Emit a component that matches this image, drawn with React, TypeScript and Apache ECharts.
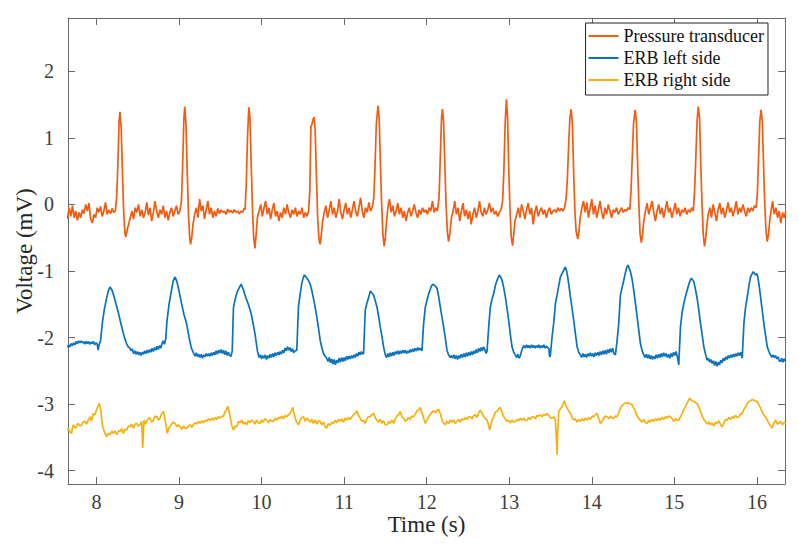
import React, { useEffect, useRef } from "react";
import * as echarts from "echarts";

const X_MIN = 7.656;
const X_MAX = 16.34;
const Y_MIN = -4.2;
const Y_MAX = 2.8;
const xTicks = [8, 9, 10, 11, 12, 13, 14, 15, 16];
const yTicks = [-4, -3, -2, -1, 0, 1, 2];
const seriesNames = ["Pressure transducer", "ERB left side", "ERB right side"];
const seriesColors = ["#F45A10", "#0B72BD", "#F8B010"];

const pressure: [number, number][] = [
[7.65,-0.22],[7.67,-0.05],[7.69,-0.18],[7.71,-0.02],[7.73,-0.2],[7.75,-0.1],[7.77,-0.24],[7.79,-0.12],[7.81,-0.2],[7.83,-0.08],[7.85,-0.14],[7.87,0.0],[7.89,-0.1],[7.91,0.02],[7.93,-0.22],[7.95,-0.28],[7.97,-0.15],[7.99,-0.2],[8.01,-0.05],[8.03,-0.12],[8.05,-0.03],[8.07,-0.18],[8.09,-0.1],[8.11,0.03],[8.13,-0.15],[8.15,-0.08],[8.17,-0.14],[8.19,-0.06],[8.21,-0.12],[8.23,-0.1],
[8.245,0.1],[8.26,0.6],[8.275,1.25],[8.286,1.39],[8.30,1.15],[8.315,0.5],[8.33,-0.1],[8.345,-0.42],[8.355,-0.49],[8.37,-0.4],[8.39,-0.3],[8.41,-0.2],
[8.43,-0.1],[8.45,-0.22],[8.47,-0.05],[8.49,-0.12],[8.51,0.0],[8.53,-0.18],[8.55,-0.08],[8.57,-0.2],[8.59,-0.12],[8.61,0.03],[8.63,-0.16],[8.65,-0.05],[8.67,-0.25],[8.69,-0.12],[8.71,0.05],[8.73,-0.1],[8.75,-0.2],[8.77,-0.08],[8.79,-0.15],[8.81,-0.02],[8.83,-0.2],[8.85,-0.1],[8.87,-0.24],[8.89,-0.12],[8.91,-0.05],[8.93,-0.18],[8.95,-0.1],[8.97,-0.02],[8.99,-0.15],[9.01,-0.1],
[9.03,0.05],[9.045,0.6],[9.06,1.3],[9.07,1.47],[9.085,1.2],[9.10,0.5],[9.115,-0.15],[9.13,-0.5],[9.14,-0.6],[9.155,-0.5],[9.17,-0.3],[9.19,-0.15],
[9.21,-0.05],[9.23,-0.2],[9.25,0.08],[9.27,-0.1],[9.29,-0.02],[9.31,-0.22],[9.33,-0.08],[9.35,0.05],[9.37,-0.15],[9.39,-0.05],[9.41,-0.2],[9.43,-0.1],[9.45,-0.18],[9.47,-0.06],[9.49,-0.14],[9.51,-0.08],[9.53,-0.12],[9.55,-0.1],[9.57,-0.15],[9.59,-0.07],[9.61,-0.12],[9.63,-0.09],[9.65,-0.13],[9.67,-0.08],[9.69,-0.12],[9.71,-0.1],[9.73,-0.14],[9.75,-0.1],[9.77,-0.12],[9.79,-0.06],
[9.80,-0.08],[9.815,0.3],[9.83,1.0],[9.846,1.46],[9.86,1.3],[9.875,0.6],[9.89,-0.05],[9.905,-0.5],[9.92,-0.66],[9.935,-0.45],[9.95,-0.2],
[9.97,-0.1],[9.99,0.0],[10.01,-0.18],[10.03,-0.05],[10.05,0.05],[10.07,-0.15],[10.09,-0.05],[10.11,-0.22],[10.13,-0.08],[10.15,0.02],[10.17,-0.18],[10.19,-0.1],[10.21,-0.25],[10.23,-0.12],[10.25,-0.2],[10.27,-0.05],[10.29,-0.15],[10.31,0.0],[10.33,-0.12],[10.35,-0.2],[10.37,-0.08],[10.39,-0.15],[10.41,-0.05],[10.43,-0.18],[10.45,-0.1],[10.47,-0.15],[10.49,-0.05],[10.51,-0.2],[10.53,-0.12],[10.55,-0.18],[10.57,-0.1],
[10.585,0.2],[10.598,1.17],[10.61,1.2],[10.625,1.28],[10.638,1.31],[10.65,1.1],[10.665,0.4],[10.68,-0.2],[10.695,-0.52],[10.71,-0.6],[10.725,-0.45],[10.74,-0.25],
[10.76,-0.12],[10.78,-0.02],[10.80,-0.2],[10.82,-0.08],[10.84,0.05],[10.86,-0.15],[10.88,-0.05],[10.90,-0.2],[10.92,-0.1],[10.94,0.08],[10.96,-0.12],[10.98,-0.22],[11.00,-0.08],[11.02,0.02],[11.04,-0.15],[11.06,-0.05],[11.08,-0.2],[11.10,-0.08],[11.12,0.05],[11.14,-0.1],[11.16,-0.18],[11.18,-0.05],[11.20,0.1],[11.22,-0.1],[11.24,-0.2],[11.26,-0.05],[11.28,-0.12],[11.30,0.03],[11.32,-0.1],[11.34,-0.05],
[11.36,0.1],[11.375,0.6],[11.39,1.2],[11.41,1.48],[11.425,1.3],[11.44,0.6],[11.455,0.0],[11.47,-0.45],[11.485,-0.63],[11.50,-0.5],[11.515,-0.25],
[11.53,-0.05],[11.55,0.08],[11.57,-0.12],[11.59,-0.02],[11.61,-0.18],[11.63,-0.1],[11.65,0.02],[11.67,-0.15],[11.69,-0.05],[11.71,-0.2],[11.73,-0.1],[11.75,-0.25],[11.77,-0.12],[11.79,-0.05],[11.81,-0.18],[11.83,-0.1],[11.85,0.0],[11.87,-0.12],[11.89,-0.2],[11.91,-0.08],[11.93,-0.15],[11.95,-0.05],[11.97,-0.12],[11.99,-0.08],[12.01,-0.15],[12.03,-0.05],[12.05,-0.1],[12.07,0.05],[12.09,-0.12],[12.11,-0.05],[12.13,-0.1],
[12.15,0.1],[12.165,0.7],[12.18,1.3],[12.19,1.43],[12.205,1.25],[12.22,0.6],[12.235,0.0],[12.25,-0.4],[12.265,-0.56],[12.28,-0.45],[12.30,-0.2],
[12.32,-0.1],[12.34,0.05],[12.36,-0.15],[12.38,-0.05],[12.40,-0.25],[12.42,-0.1],[12.44,0.02],[12.46,-0.18],[12.48,-0.08],[12.50,-0.22],[12.52,-0.1],[12.54,-0.3],[12.56,-0.15],[12.58,-0.05],[12.60,-0.2],[12.62,-0.1],[12.64,0.05],[12.66,-0.12],[12.68,-0.18],[12.70,-0.05],[12.72,-0.15],[12.74,-0.08],[12.76,0.02],[12.78,-0.12],[12.80,-0.05],[12.82,-0.15],[12.84,-0.1],[12.86,-0.18],[12.88,-0.12],[12.90,-0.08],
[12.92,0.05],[12.935,0.5],[12.95,1.2],[12.965,1.58],[12.98,1.3],[12.995,0.5],[13.01,-0.1],[13.025,-0.5],[13.04,-0.62],[13.055,-0.45],[13.07,-0.25],
[13.09,-0.15],[13.11,-0.05],[13.13,-0.2],[13.15,0.0],[13.17,-0.1],[13.19,-0.22],[13.21,-0.08],[13.23,0.02],[13.25,-0.15],[13.27,-0.05],[13.29,-0.3],[13.31,-0.12],[13.33,-0.02],[13.35,-0.18],[13.37,-0.1],[13.39,-0.05],[13.41,-0.15],[13.43,-0.08],[13.45,-0.2],[13.47,-0.1],[13.49,-0.05],[13.51,-0.15],[13.53,-0.1],[13.55,-0.08],[13.57,-0.12],[13.59,-0.05],[13.61,-0.1],[13.63,-0.06],[13.65,-0.1],[13.67,-0.05],
[13.69,0.1],[13.705,0.4],[13.72,0.9],[13.735,1.3],[13.75,1.43],[13.765,1.2],[13.78,0.5],[13.795,-0.1],[13.81,-0.4],[13.83,-0.52],[13.845,-0.4],[13.86,-0.2],
[13.88,-0.05],[13.90,0.05],[13.92,-0.12],[13.94,0.03],[13.96,-0.2],[13.98,-0.05],[14.00,0.08],[14.02,-0.15],[14.04,-0.02],[14.06,-0.2],[14.08,-0.08],[14.10,0.05],[14.12,-0.12],[14.14,-0.22],[14.16,-0.05],[14.18,-0.15],[14.20,0.0],[14.22,-0.1],[14.24,-0.2],[14.26,-0.08],[14.28,-0.12],[14.30,-0.05],[14.32,-0.15],[14.34,-0.1],[14.36,-0.05],[14.38,-0.12],[14.40,-0.08],[14.42,-0.1],[14.44,-0.05],[14.46,-0.08],
[14.475,0.2],[14.49,0.7],[14.505,1.2],[14.525,1.42],[14.54,1.25],[14.555,0.6],[14.57,0.0],[14.585,-0.45],[14.60,-0.575],[14.615,-0.45],[14.63,-0.25],
[14.65,-0.1],[14.67,0.02],[14.69,-0.15],[14.71,-0.05],[14.73,0.05],[14.75,-0.12],[14.77,-0.25],[14.79,-0.1],[14.81,0.0],[14.83,-0.15],[14.85,-0.05],[14.87,-0.2],[14.89,-0.08],[14.91,0.05],[14.93,-0.12],[14.95,-0.05],[14.97,-0.2],[14.99,-0.1],[15.01,0.02],[15.03,-0.15],[15.05,-0.05],[15.07,-0.18],[15.09,-0.08],[15.11,-0.12],[15.13,-0.05],[15.15,-0.15],[15.17,-0.08],[15.19,-0.12],[15.21,-0.05],[15.23,-0.1],
[15.245,0.2],[15.26,0.7],[15.275,1.25],[15.289,1.47],[15.305,1.3],[15.32,0.6],[15.335,0.0],[15.35,-0.45],[15.365,-0.63],[15.38,-0.5],[15.395,-0.3],
[15.41,-0.15],[15.43,-0.05],[15.45,-0.2],[15.47,0.0],[15.49,-0.12],[15.51,-0.25],[15.53,-0.08],[15.55,0.02],[15.57,-0.15],[15.59,-0.05],[15.61,-0.2],[15.63,-0.1],[15.65,0.03],[15.67,-0.12],[15.69,-0.05],[15.71,-0.18],[15.73,-0.08],[15.75,0.05],[15.77,-0.15],[15.79,-0.05],[15.81,-0.12],[15.83,0.0],[15.85,-0.1],[15.87,-0.18],[15.89,-0.05],[15.91,-0.12],[15.93,-0.05],[15.95,-0.1],[15.97,-0.02],[15.99,-0.05],
[16.005,0.15],[16.02,0.7],[16.035,1.25],[16.05,1.42],[16.065,1.25],[16.08,0.6],[16.095,0.0],[16.11,-0.4],[16.125,-0.56],[16.14,-0.45],[16.155,-0.25],
[16.17,-0.1],[16.19,0.05],[16.21,-0.15],[16.23,-0.05],[16.25,-0.2],[16.27,-0.1],[16.29,-0.28],[16.31,-0.12],[16.33,-0.2],[16.35,-0.1]
];

const erbLeft: [number, number][] = [
[7.65,-2.15],[7.665,-2.11],[7.68,-2.14],[7.695,-2.09],[7.71,-2.12],[7.725,-2.08],[7.74,-2.11],[7.755,-2.06],[7.77,-2.09],[7.785,-2.05],[7.80,-2.08],[7.815,-2.05],[7.83,-2.08],[7.845,-2.06],[7.86,-2.1],[7.875,-2.06],[7.89,-2.09],[7.905,-2.06],[7.92,-2.1],[7.935,-2.07],[7.95,-2.09],[7.965,-2.06],[7.98,-2.11],[7.995,-2.08],[8.01,-2.1],[8.02,-2.19],[8.035,-2.1],
[8.05,-2.05],[8.075,-1.75],[8.10,-1.55],[8.125,-1.4],[8.145,-1.3],[8.165,-1.24],[8.19,-1.29],[8.215,-1.39],[8.245,-1.53],[8.265,-1.62],[8.285,-1.73],[8.305,-1.83],[8.325,-1.93],[8.345,-2.02],[8.365,-2.09],[8.385,-2.14],[8.405,-2.16],
[8.42,-2.2],[8.435,-2.17],[8.45,-2.24],[8.465,-2.2],[8.48,-2.25],[8.495,-2.21],[8.51,-2.26],[8.525,-2.22],[8.54,-2.27],[8.555,-2.22],[8.57,-2.25],[8.585,-2.2],[8.60,-2.24],[8.615,-2.19],[8.63,-2.23],[8.645,-2.18],[8.66,-2.22],[8.675,-2.16],[8.69,-2.21],[8.705,-2.15],[8.72,-2.19],[8.735,-2.13],[8.75,-2.18],[8.765,-2.12],[8.78,-2.16],[8.795,-2.09],[8.81,-2.05],[8.825,-2.1],[8.84,-2.02],
[8.855,-1.75],[8.88,-1.5],[8.905,-1.32],[8.93,-1.15],[8.953,-1.09],[8.975,-1.16],[9.0,-1.3],[9.03,-1.48],[9.06,-1.65],[9.09,-1.78],[9.12,-1.98],[9.15,-2.16],[9.18,-2.24],
[9.195,-2.28],[9.21,-2.23],[9.225,-2.29],[9.24,-2.25],[9.255,-2.3],[9.27,-2.25],[9.285,-2.31],[9.30,-2.26],[9.315,-2.29],[9.33,-2.24],[9.345,-2.28],[9.36,-2.24],[9.375,-2.28],[9.39,-2.23],[9.405,-2.27],[9.42,-2.22],[9.435,-2.26],[9.45,-2.2],[9.465,-2.25],[9.48,-2.19],[9.495,-2.23],[9.51,-2.18],[9.525,-2.24],[9.54,-2.19],[9.555,-2.26],[9.57,-2.2],[9.585,-2.27],[9.60,-2.22],[9.615,-2.27],[9.63,-2.28],
[9.645,-2.2],[9.66,-1.55],[9.685,-1.4],[9.71,-1.3],[9.735,-1.24],[9.753,-1.2],[9.78,-1.28],[9.81,-1.4],[9.84,-1.5],[9.87,-1.62],[9.90,-1.8],[9.925,-1.98],[9.95,-2.2],[9.97,-2.3],
[9.985,-2.26],[10.0,-2.32],[10.015,-2.27],[10.03,-2.31],[10.045,-2.26],[10.06,-2.33],[10.075,-2.27],[10.09,-2.31],[10.105,-2.25],[10.12,-2.3],[10.135,-2.24],[10.15,-2.29],[10.165,-2.23],[10.18,-2.27],[10.195,-2.22],[10.21,-2.26],[10.225,-2.21],[10.24,-2.25],[10.255,-2.19],[10.27,-2.23],[10.285,-2.16],[10.30,-2.2],[10.315,-2.14],[10.33,-2.19],[10.345,-2.15],[10.36,-2.21],[10.375,-2.17],[10.39,-2.23],[10.405,-2.2],
[10.427,-2.19],[10.447,-1.54],[10.467,-1.35],[10.487,-1.19],[10.505,-1.1],[10.52,-1.06],[10.545,-1.1],[10.568,-1.14],[10.59,-1.2],[10.608,-1.29],[10.64,-1.48],[10.669,-1.69],[10.69,-1.86],[10.71,-2.04],[10.73,-2.15],[10.75,-2.24],[10.77,-2.28],[10.79,-2.31],
[10.805,-2.36],[10.82,-2.3],[10.835,-2.38],[10.85,-2.32],[10.865,-2.4],[10.88,-2.33],[10.895,-2.41],[10.91,-2.34],[10.925,-2.38],[10.94,-2.31],[10.955,-2.37],[10.97,-2.3],[10.985,-2.36],[11.0,-2.3],[11.015,-2.35],[11.03,-2.28],[11.045,-2.33],[11.06,-2.28],[11.075,-2.32],[11.09,-2.27],[11.105,-2.31],[11.12,-2.26],[11.135,-2.3],[11.15,-2.24],[11.165,-2.28],[11.18,-2.22],[11.195,-2.26],[11.21,-2.21],[11.225,-2.25],
[11.236,-2.24],[11.256,-1.59],[11.277,-1.48],[11.297,-1.4],[11.317,-1.3],[11.337,-1.33],[11.357,-1.36],[11.378,-1.45],[11.398,-1.54],[11.418,-1.68],[11.438,-1.84],[11.458,-1.98],[11.478,-2.14],[11.499,-2.26],
[11.515,-2.3],[11.53,-2.24],[11.545,-2.29],[11.56,-2.23],[11.575,-2.28],[11.59,-2.22],[11.605,-2.27],[11.62,-2.21],[11.635,-2.25],[11.65,-2.2],[11.665,-2.25],[11.68,-2.2],[11.695,-2.24],[11.71,-2.19],[11.725,-2.23],[11.74,-2.19],[11.755,-2.24],[11.77,-2.2],[11.785,-2.23],[11.80,-2.18],[11.815,-2.22],[11.83,-2.17],[11.845,-2.21],[11.86,-2.16],[11.875,-2.2],[11.89,-2.15],[11.905,-2.19],[11.92,-2.16],
[11.943,-2.2],[11.963,-1.79],[11.984,-1.54],[12.004,-1.44],[12.025,-1.34],[12.045,-1.27],[12.06,-1.22],[12.076,-1.2],[12.1,-1.22],[12.125,-1.26],[12.145,-1.38],[12.165,-1.54],[12.185,-1.69],[12.205,-1.84],[12.225,-2.0],[12.246,-2.19],[12.266,-2.26],[12.286,-2.3],
[12.30,-2.27],[12.315,-2.31],[12.33,-2.26],[12.345,-2.32],[12.36,-2.27],[12.375,-2.33],[12.39,-2.27],[12.405,-2.31],[12.42,-2.25],[12.435,-2.3],[12.45,-2.24],[12.465,-2.29],[12.48,-2.23],[12.495,-2.28],[12.51,-2.22],[12.525,-2.27],[12.54,-2.21],[12.555,-2.26],[12.57,-2.2],[12.585,-2.24],[12.60,-2.18],[12.615,-2.23],[12.63,-2.16],[12.645,-2.21],[12.66,-2.15],[12.675,-2.2],[12.69,-2.14],[12.705,-2.18],[12.72,-2.24],
[12.731,-2.21],[12.751,-1.85],[12.771,-1.54],[12.792,-1.42],[12.812,-1.34],[12.832,-1.22],[12.852,-1.14],[12.88,-1.06],[12.9,-1.1],[12.913,-1.14],[12.933,-1.25],[12.953,-1.39],[12.973,-1.56],[12.993,-1.74],[13.013,-1.95],[13.034,-2.14],[13.054,-2.22],[13.074,-2.26],
[13.09,-2.3],[13.105,-2.25],[13.12,-2.31],[13.135,-2.27],[13.15,-2.2],[13.165,-2.15],[13.18,-2.12],[13.195,-2.16],[13.21,-2.11],[13.225,-2.15],[13.24,-2.12],[13.255,-2.16],[13.27,-2.11],[13.285,-2.15],[13.30,-2.12],[13.315,-2.16],[13.33,-2.12],[13.345,-2.15],[13.36,-2.11],[13.375,-2.16],[13.39,-2.12],[13.405,-2.15],[13.42,-2.11],[13.435,-2.16],[13.45,-2.13],[13.465,-2.15],[13.48,-2.17],[13.49,-2.29],
[13.498,-2.27],[13.518,-2.0],[13.538,-1.79],[13.559,-1.49],[13.58,-1.36],[13.60,-1.22],[13.62,-1.09],[13.652,-1.01],[13.68,-0.94],[13.695,-1.0],[13.708,-1.09],[13.725,-1.24],[13.741,-1.39],[13.761,-1.56],[13.781,-1.74],[13.80,-1.93],[13.822,-2.14],[13.842,-2.22],[13.862,-2.26],
[13.877,-2.3],[13.892,-2.24],[13.907,-2.29],[13.922,-2.25],[13.937,-2.3],[13.952,-2.24],[13.967,-2.28],[13.982,-2.23],[13.997,-2.28],[14.012,-2.24],[14.027,-2.29],[14.042,-2.23],[14.057,-2.27],[14.072,-2.22],[14.087,-2.27],[14.102,-2.21],[14.117,-2.26],[14.132,-2.2],[14.147,-2.25],[14.162,-2.19],[14.177,-2.25],[14.192,-2.18],[14.207,-2.23],[14.222,-2.17],[14.237,-2.22],[14.252,-2.16],[14.267,-2.24],
[14.286,-2.26],[14.306,-2.05],[14.326,-1.79],[14.347,-1.36],[14.367,-1.25],[14.387,-1.14],[14.405,-1.04],[14.42,-0.96],[14.436,-0.91],[14.45,-0.95],[14.468,-1.01],[14.488,-1.12],[14.508,-1.29],[14.528,-1.48],[14.549,-1.69],[14.569,-1.89],[14.589,-2.09],[14.61,-2.2],[14.63,-2.26],
[14.645,-2.3],[14.66,-2.25],[14.675,-2.31],[14.69,-2.26],[14.705,-2.32],[14.72,-2.27],[14.735,-2.33],[14.75,-2.28],[14.765,-2.32],[14.78,-2.26],[14.795,-2.31],[14.81,-2.25],[14.825,-2.3],[14.84,-2.24],[14.855,-2.29],[14.87,-2.23],[14.885,-2.28],[14.90,-2.24],[14.915,-2.3],[14.93,-2.25],[14.945,-2.31],[14.96,-2.24],[14.975,-2.29],[14.99,-2.22],[15.005,-2.27],[15.02,-2.21],[15.035,-2.28],
[15.053,-2.41],[15.074,-1.84],[15.094,-1.62],[15.114,-1.49],[15.135,-1.38],[15.155,-1.29],[15.18,-1.18],[15.204,-1.11],[15.22,-1.13],[15.236,-1.16],[15.256,-1.28],[15.276,-1.41],[15.297,-1.6],[15.317,-1.79],[15.337,-1.96],[15.357,-2.14],[15.378,-2.25],[15.398,-2.34],
[15.413,-2.31],[15.428,-2.37],[15.443,-2.33],[15.458,-2.39],[15.473,-2.35],[15.488,-2.42],[15.503,-2.36],[15.518,-2.43],[15.533,-2.37],[15.548,-2.41],[15.563,-2.34],[15.578,-2.38],[15.593,-2.31],[15.608,-2.35],[15.623,-2.29],[15.638,-2.33],[15.653,-2.27],[15.668,-2.31],[15.683,-2.26],[15.698,-2.3],[15.713,-2.25],[15.728,-2.29],[15.743,-2.24],[15.758,-2.28],[15.773,-2.23],[15.788,-2.27],[15.803,-2.22],
[15.822,-2.31],[15.842,-1.79],[15.862,-1.55],[15.883,-1.39],[15.903,-1.22],[15.923,-1.09],[15.955,-1.01],[15.983,-1.06],[16.0,-1.04],[16.011,-1.09],[16.027,-1.22],[16.044,-1.39],[16.064,-1.59],[16.084,-1.79],[16.105,-1.97],[16.125,-2.14],[16.145,-2.21],[16.165,-2.26],
[16.18,-2.3],[16.195,-2.26],[16.21,-2.3],[16.225,-2.27],[16.24,-2.32],[16.255,-2.29],[16.27,-2.35],[16.287,-2.36],[16.30,-2.31],[16.315,-2.37],[16.33,-2.32],[16.35,-2.36]
];

const erbRight: [number, number][] = [
[7.65,-3.40],[7.66,-3.36],[7.68,-3.42],[7.70,-3.44],[7.71,-3.35],[7.721,-3.31],[7.74,-3.36],[7.761,-3.34],[7.77,-3.30],[7.781,-3.29],[7.80,-3.33],[7.822,-3.31],[7.84,-3.27],[7.862,-3.26],[7.88,-3.30],[7.902,-3.24],[7.923,-3.19],[7.935,-3.25],[7.943,-3.24],[7.963,-3.14],[7.98,-3.16],[7.995,-3.11],[8.016,-3.04],[8.036,-2.99],[8.052,-3.09],[8.076,-3.34],[8.104,-3.44],[8.125,-3.49],[8.145,-3.44],[8.165,-3.46],[8.185,-3.41],[8.205,-3.44],[8.225,-3.40],[8.246,-3.46],[8.266,-3.40],[8.286,-3.41],[8.306,-3.37],[8.327,-3.44],[8.347,-3.38],[8.367,-3.39],[8.387,-3.33],[8.407,-3.34],[8.427,-3.30],[8.448,-3.36],[8.468,-3.30],[8.488,-3.29],[8.508,-3.33],[8.529,-3.31],[8.549,-3.26],[8.561,-3.66],[8.577,-3.24],[8.593,-3.30],[8.609,-3.26],[8.63,-3.21],[8.65,-3.21],[8.67,-3.27],[8.69,-3.24],[8.71,-3.18],[8.731,-3.19],[8.75,-3.24],[8.771,-3.21],[8.791,-3.14],[8.812,-3.11],[8.832,-3.24],[8.86,-3.44],[8.876,-3.36],[8.892,-3.34],[8.91,-3.30],[8.93,-3.27],[8.953,-3.29],[8.975,-3.34],[8.994,-3.31],[9.014,-3.34],[9.035,-3.38],[9.054,-3.33],[9.074,-3.36],[9.094,-3.36],[9.115,-3.33],[9.135,-3.31],[9.155,-3.35],[9.175,-3.31],[9.195,-3.28],[9.215,-3.30],[9.235,-3.26],[9.256,-3.29],[9.276,-3.25],[9.296,-3.28],[9.317,-3.24],[9.337,-3.26],[9.357,-3.22],[9.377,-3.25],[9.398,-3.21],[9.418,-3.24],[9.438,-3.20],[9.458,-3.23],[9.478,-3.19],[9.498,-3.21],[9.52,-3.18],[9.539,-3.19],[9.555,-3.12],[9.571,-3.09],[9.591,-3.03],[9.605,-3.10],[9.62,-3.19],[9.64,-3.32],[9.66,-3.39],[9.68,-3.33],[9.70,-3.34],[9.72,-3.26],[9.741,-3.28],[9.761,-3.24],[9.78,-3.30],[9.8,-3.27],[9.821,-3.31],[9.84,-3.25],[9.86,-3.28],[9.882,-3.24],[9.902,-3.26],[9.92,-3.30],[9.94,-3.24],[9.96,-3.28],[9.983,-3.29],[10.0,-3.24],[10.02,-3.27],[10.04,-3.22],[10.064,-3.24],[10.085,-3.28],[10.105,-3.23],[10.125,-3.26],[10.145,-3.26],[10.165,-3.21],[10.185,-3.24],[10.205,-3.20],[10.225,-3.21],[10.245,-3.18],[10.265,-3.22],[10.285,-3.17],[10.306,-3.19],[10.325,-3.16],[10.347,-3.14],[10.365,-3.09],[10.379,-3.05],[10.39,-3.12],[10.407,-3.21],[10.425,-3.27],[10.448,-3.31],[10.468,-3.24],[10.488,-3.20],[10.508,-3.19],[10.53,-3.26],[10.549,-3.21],[10.569,-3.24],[10.59,-3.27],[10.61,-3.23],[10.629,-3.29],[10.65,-3.24],[10.67,-3.30],[10.69,-3.25],[10.71,-3.26],[10.73,-3.31],[10.75,-3.27],[10.77,-3.34],[10.791,-3.36],[10.81,-3.29],[10.83,-3.32],[10.852,-3.27],[10.872,-3.29],[10.892,-3.24],[10.912,-3.28],[10.932,-3.23],[10.953,-3.26],[10.973,-3.22],[10.993,-3.27],[11.013,-3.21],[11.033,-3.24],[11.053,-3.20],[11.073,-3.23],[11.094,-3.19],[11.114,-3.16],[11.134,-3.14],[11.155,-3.10],[11.175,-3.17],[11.195,-3.21],[11.215,-3.26],[11.236,-3.24],[11.256,-3.29],[11.276,-3.22],[11.296,-3.19],[11.316,-3.19],[11.337,-3.16],[11.357,-3.14],[11.377,-3.20],[11.397,-3.24],[11.417,-3.27],[11.438,-3.23],[11.458,-3.29],[11.478,-3.25],[11.498,-3.31],[11.519,-3.31],[11.54,-3.26],[11.56,-3.29],[11.58,-3.24],[11.6,-3.29],[11.62,-3.22],[11.64,-3.18],[11.66,-3.16],[11.68,-3.11],[11.70,-3.19],[11.721,-3.21],[11.741,-3.26],[11.761,-3.24],[11.78,-3.20],[11.8,-3.23],[11.82,-3.18],[11.842,-3.19],[11.862,-3.15],[11.882,-3.10],[11.903,-3.09],[11.923,-3.05],[11.94,-3.12],[11.963,-3.21],[11.984,-3.29],[12.004,-3.24],[12.024,-3.19],[12.045,-3.15],[12.065,-3.12],[12.085,-3.10],[12.105,-3.13],[12.125,-3.09],[12.145,-3.08],[12.165,-3.14],[12.186,-3.24],[12.206,-3.29],[12.226,-3.31],[12.246,-3.26],[12.266,-3.29],[12.287,-3.24],[12.307,-3.27],[12.327,-3.24],[12.347,-3.29],[12.367,-3.26],[12.387,-3.23],[12.407,-3.27],[12.428,-3.22],[12.448,-3.24],[12.468,-3.20],[12.488,-3.23],[12.509,-3.19],[12.529,-3.19],[12.549,-3.22],[12.57,-3.17],[12.59,-3.16],[12.61,-3.20],[12.63,-3.13],[12.65,-3.09],[12.67,-3.14],[12.691,-3.19],[12.711,-3.22],[12.731,-3.24],[12.75,-3.32],[12.763,-3.39],[12.78,-3.30],[12.792,-3.24],[12.812,-3.19],[12.832,-3.12],[12.852,-3.11],[12.872,-3.07],[12.893,-3.05],[12.913,-3.12],[12.933,-3.19],[12.953,-3.22],[12.974,-3.26],[12.994,-3.24],[13.014,-3.28],[13.034,-3.24],[13.054,-3.27],[13.074,-3.26],[13.094,-3.23],[13.115,-3.25],[13.135,-3.21],[13.155,-3.24],[13.175,-3.21],[13.196,-3.25],[13.216,-3.24],[13.236,-3.20],[13.256,-3.23],[13.277,-3.19],[13.297,-3.19],[13.317,-3.22],[13.337,-3.17],[13.357,-3.18],[13.377,-3.16],[13.398,-3.19],[13.418,-3.15],[13.438,-3.17],[13.458,-3.14],[13.478,-3.17],[13.499,-3.20],[13.519,-3.21],[13.54,-3.19],[13.559,-3.24],[13.57,-3.50],[13.579,-3.76],[13.588,-3.40],[13.6,-3.11],[13.62,-3.07],[13.64,-3.04],[13.655,-2.99],[13.668,-2.95],[13.685,-3.02],[13.701,-3.06],[13.72,-3.10],[13.741,-3.14],[13.761,-3.20],[13.781,-3.24],[13.8,-3.22],[13.82,-3.27],[13.842,-3.23],[13.862,-3.26],[13.882,-3.22],[13.902,-3.25],[13.922,-3.21],[13.943,-3.24],[13.963,-3.20],[13.983,-3.23],[14.003,-3.18],[14.024,-3.19],[14.044,-3.16],[14.064,-3.14],[14.085,-3.22],[14.105,-3.29],[14.125,-3.26],[14.145,-3.21],[14.165,-3.18],[14.185,-3.19],[14.205,-3.22],[14.226,-3.18],[14.246,-3.21],[14.266,-3.21],[14.287,-3.18],[14.307,-3.19],[14.327,-3.13],[14.347,-3.06],[14.367,-3.02],[14.387,-3.00],[14.41,-2.98],[14.428,-2.99],[14.448,-2.98],[14.468,-3.00],[14.488,-3.01],[14.508,-3.06],[14.529,-3.11],[14.55,-3.18],[14.57,-3.22],[14.589,-3.24],[14.61,-3.27],[14.63,-3.23],[14.65,-3.28],[14.67,-3.29],[14.69,-3.24],[14.71,-3.27],[14.731,-3.23],[14.751,-3.26],[14.771,-3.22],[14.792,-3.25],[14.812,-3.21],[14.832,-3.24],[14.852,-3.20],[14.873,-3.23],[14.893,-3.19],[14.913,-3.21],[14.933,-3.18],[14.953,-3.19],[14.973,-3.22],[14.993,-3.26],[15.013,-3.22],[15.034,-3.24],[15.054,-3.24],[15.074,-3.19],[15.094,-3.14],[15.115,-3.08],[15.135,-3.04],[15.16,-2.97],[15.187,-2.91],[15.21,-2.95],[15.236,-2.96],[15.256,-2.98],[15.276,-2.99],[15.297,-3.05],[15.317,-3.11],[15.337,-3.18],[15.357,-3.23],[15.377,-3.26],[15.398,-3.30],[15.418,-3.27],[15.438,-3.31],[15.458,-3.28],[15.478,-3.33],[15.499,-3.27],[15.519,-3.29],[15.539,-3.25],[15.559,-3.31],[15.579,-3.34],[15.6,-3.28],[15.62,-3.23],[15.64,-3.24],[15.66,-3.20],[15.68,-3.23],[15.7,-3.19],[15.721,-3.21],[15.741,-3.17],[15.761,-3.20],[15.781,-3.19],[15.8,-3.15],[15.822,-3.14],[15.842,-3.08],[15.862,-3.04],[15.883,-2.99],[15.903,-2.96],[15.923,-2.95],[15.943,-2.93],[15.963,-2.94],[15.983,-2.96],[16.004,-2.96],[16.024,-3.01],[16.044,-3.06],[16.065,-3.12],[16.085,-3.17],[16.105,-3.19],[16.125,-3.24],[16.145,-3.29],[16.165,-3.33],[16.185,-3.36],[16.205,-3.28],[16.226,-3.24],[16.246,-3.30],[16.266,-3.29],[16.287,-3.26],[16.31,-3.31],[16.33,-3.27],[16.35,-3.29]
];

const FONT = "Liberation Serif";
const AXIS_COLOR = "#6a6a6a";
const LABEL_COLOR = "#3c3c3c";

export default function App() {
  const ref = useRef<HTMLDivElement>(null);
  useEffect(() => {
    if (!ref.current) return;
    const chart = echarts.init(ref.current, null, { renderer: "svg" });
    const lineStyle = { color: AXIS_COLOR, width: 1 };
    const baseX = {
      type: "value",
      min: X_MIN,
      max: X_MAX,
      splitLine: { show: false },
      axisLine: { show: true, onZero: false, lineStyle },
      axisTick: { show: true, inside: true, length: 7, customValues: xTicks, lineStyle },
    };
    const baseY = {
      type: "value",
      min: Y_MIN,
      max: Y_MAX,
      splitLine: { show: false },
      axisLine: { show: true, onZero: false, lineStyle },
      axisTick: { show: true, inside: true, length: 7, customValues: yTicks, lineStyle },
    };
    const data = [pressure, erbLeft, erbRight];
    chart.setOption({
      animation: false,
      backgroundColor: "#ffffff",
      grid: { left: 68, right: 14, top: 18, bottom: 72, containLabel: false, outerBoundsMode: "none" },
      legend: {
        orient: "vertical",
        right: 31,
        top: 23,
        itemWidth: 30,
        itemHeight: 2,
        itemGap: 0,
        icon: "rect",
        padding: [2, 4, 4, 3],
        backgroundColor: "#ffffff",
        borderColor: "#222222",
        borderWidth: 1,
        borderRadius: 0,
        textStyle: { fontFamily: FONT, fontSize: 18, color: "#111111", lineHeight: 22 },
        data: seriesNames,
      },
      xAxis: [
        {
          ...baseX,
          position: "bottom",
          axisLabel: {
            show: true,
            customValues: xTicks,
            margin: 8,
            fontFamily: FONT,
            fontSize: 20,
            color: LABEL_COLOR,
          },
          name: "Time (s)",
          nameLocation: "middle",
          nameGap: 29,
          nameMoveOverlap: false,
          nameTextStyle: { fontFamily: FONT, fontSize: 23, color: "#262626" },
        },
        {
          ...baseX,
          position: "top",
          axisLabel: { show: false },
        },
      ],
      yAxis: [
        {
          ...baseY,
          position: "left",
          axisLabel: {
            show: true,
            customValues: yTicks,
            margin: 14,
            fontFamily: FONT,
            fontSize: 20,
            color: LABEL_COLOR,
          },
          name: "Voltage (mV)",
          nameLocation: "middle",
          nameGap: 32,
          nameMoveOverlap: false,
          nameTextStyle: { fontFamily: FONT, fontSize: 23, color: "#262626" },
        },
        {
          ...baseY,
          position: "right",
          axisLabel: { show: false },
        },
      ],
      series: seriesNames.map((name, i) => ({
        type: "line",
        name,
        data: data[i],
        xAxisIndex: 0,
        yAxisIndex: 0,
        showSymbol: false,
        symbol: "none",
        clip: true,
        lineStyle: { width: 1.7, color: seriesColors[i] },
        itemStyle: { color: seriesColors[i] },
        emphasis: { disabled: true },
        z: 2 + (2 - i),
      })),
    });
    return () => chart.dispose();
  }, []);
  return (
    <div
      ref={ref}
      style={{ position: "fixed", left: 0, top: 0, width: 799, height: 556, background: "#fff" }}
    />
  );
}
